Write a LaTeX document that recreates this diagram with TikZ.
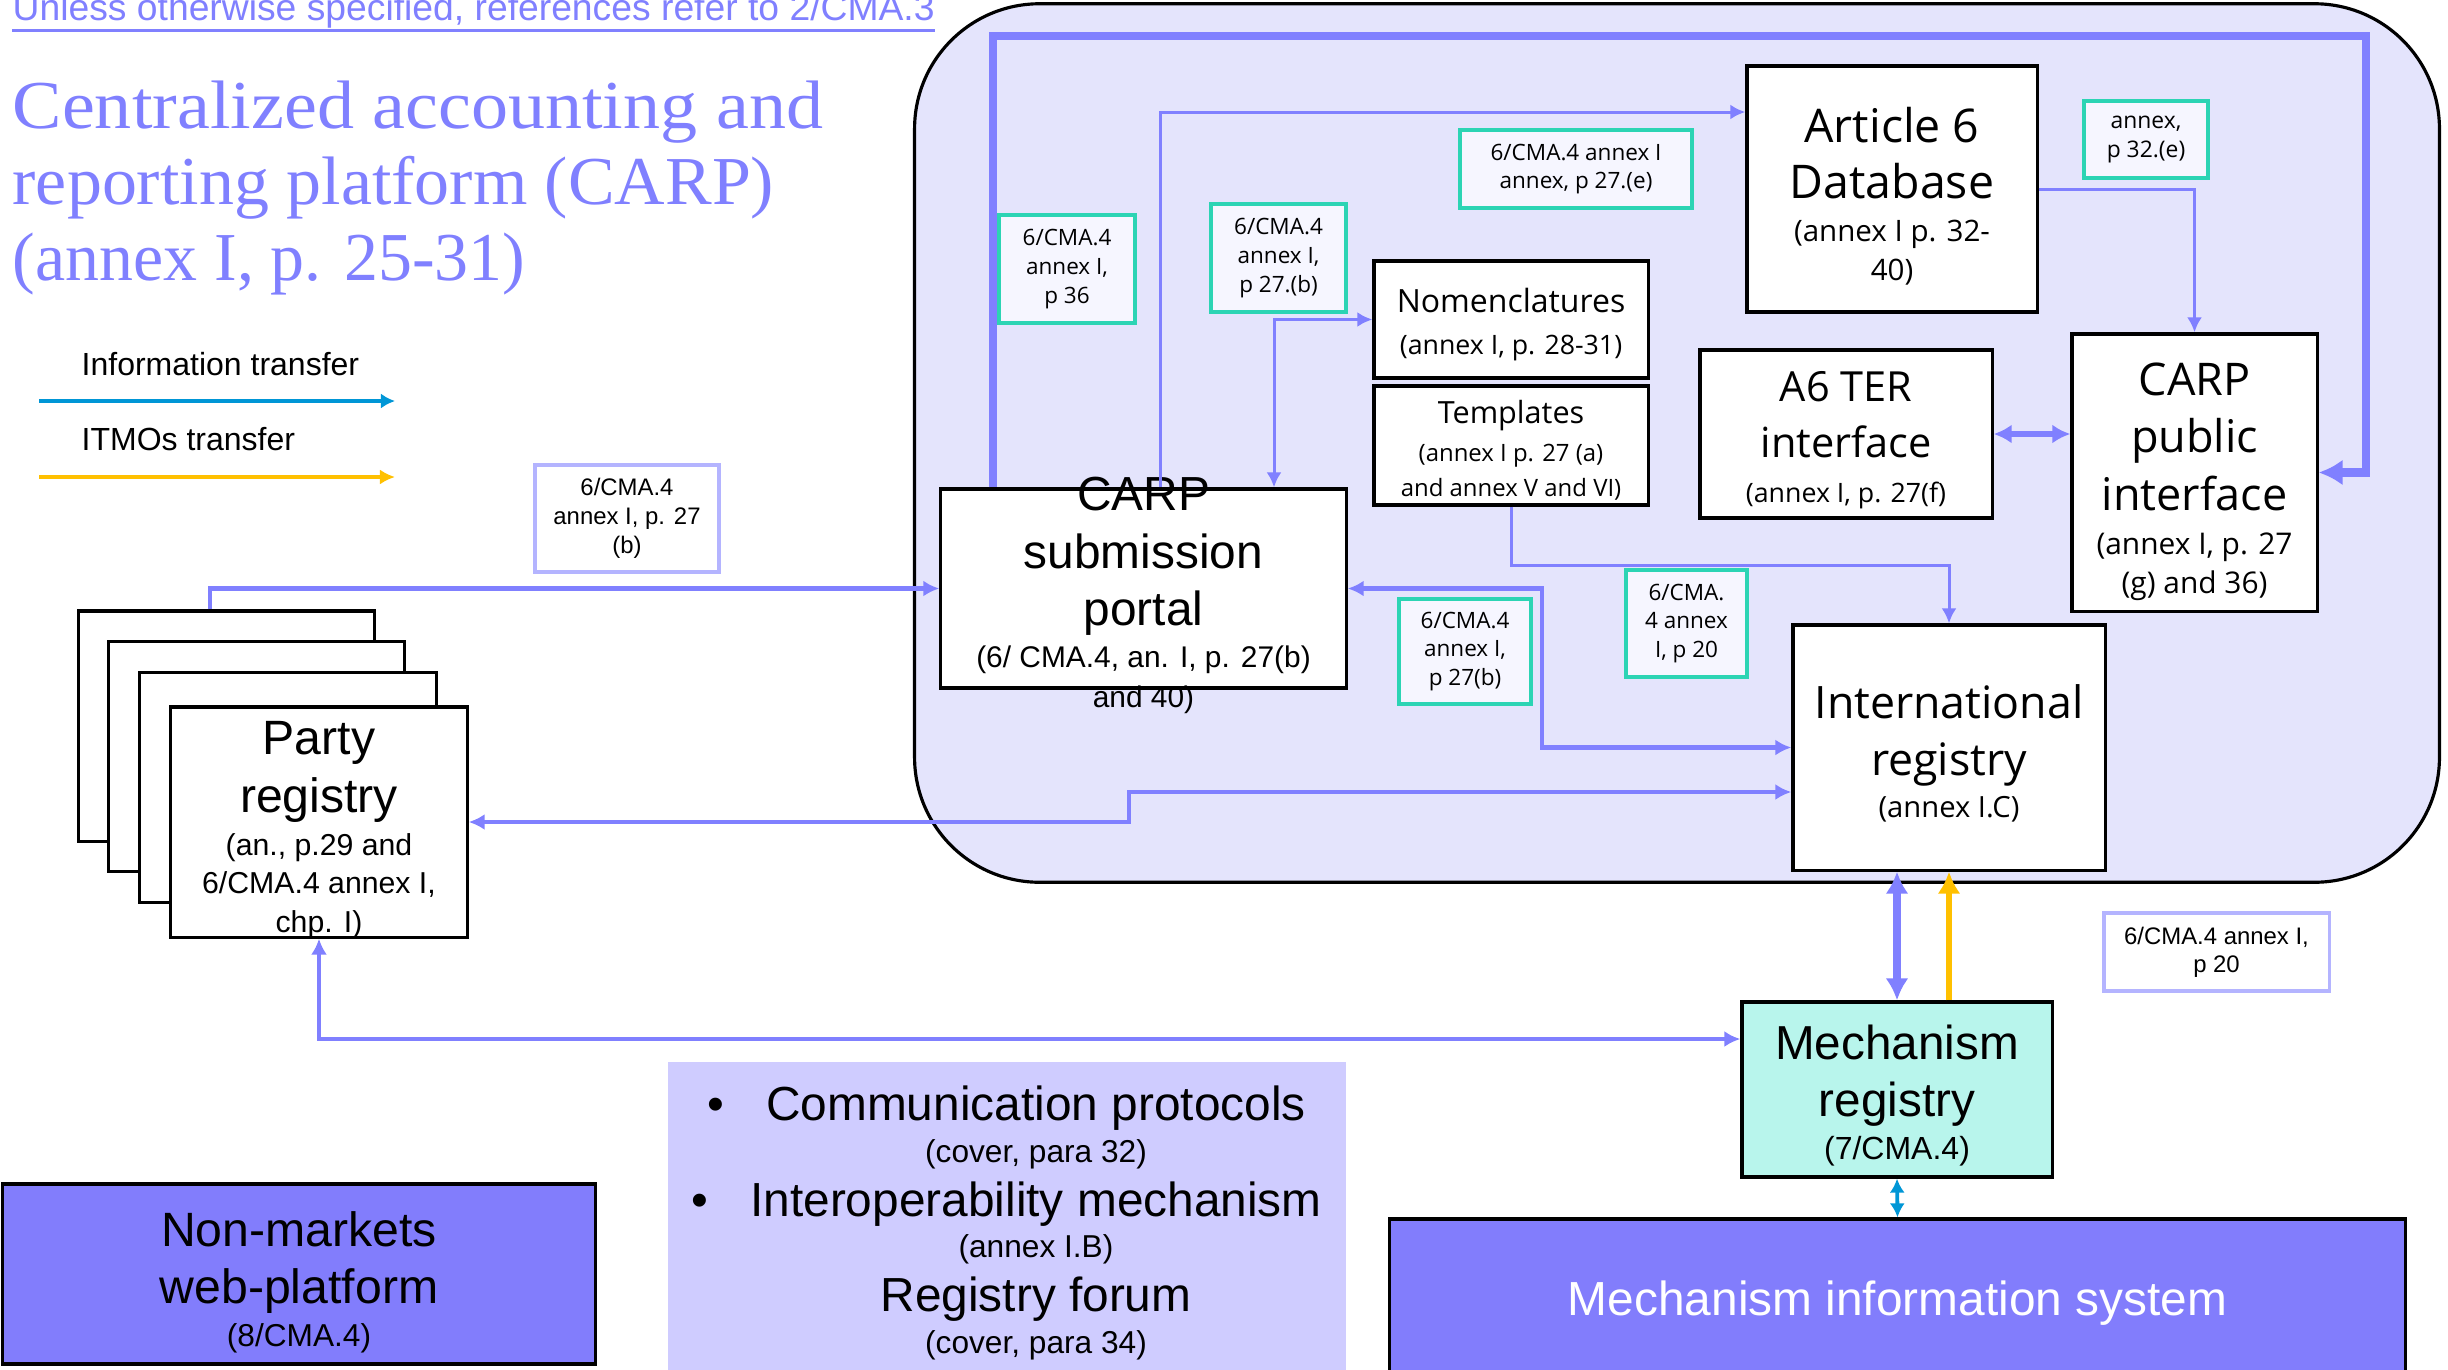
\documentclass[tikz,border=0pt]{standalone}
\usepackage{fontspec}
\usepackage{graphicx}
\setmainfont{Liberation Sans}
\newfontfamily\segoe{Open Sans}
\newfontfamily\titleserif{Liberation Serif}
\usetikzlibrary{arrows.meta,positioning,calc}
\newcommand{\setfs}[2]{\fontsize{#1}{#2}\selectfont}

\definecolor{carpline}{RGB}{128,128,255}
\definecolor{carpbg}{RGB}{228,228,252}
\definecolor{lblteal}{RGB}{44,212,180}
\definecolor{lblfill}{RGB}{246,246,255}
\definecolor{lblpurple}{RGB}{180,180,255}
\definecolor{mechfill}{RGB}{184,245,236}
\definecolor{sysfill}{RGB}{130,125,252}
\definecolor{protofill}{RGB}{207,204,255}
\definecolor{infoblue}{RGB}{0,150,214}
\definecolor{itmoorange}{RGB}{255,192,0}

\tikzset{
    box/.style={draw=black, line width=0.9pt, fill=white, inner sep=0pt, align=center},
    boxtext/.style={align=center, inner sep=0pt},
    sheet/.style={box, minimum width=2.96cm, minimum height=2.30cm},
    teallabel/.style={draw=lblteal, line width=1.1pt, fill=lblfill, inner sep=0pt, align=center, font=\segoe\setfs{6.4}{8.2}},
    purplelabel/.style={draw=lblpurple, line width=0.9pt, fill=white, inner sep=0pt, align=center, font=\setfs{6.8}{8.2}},
    link/.style={draw=carpline, line width=0.85pt, >={Latex[length=1.5mm,width=1.5mm]}, ->},
    route/.style={draw=carpline, line width=1.3pt, >={Latex[length=1.6mm,width=1.6mm]}},
    terlink/.style={draw=carpline, line width=1.7pt, >={Latex[length=1.8mm,width=1.9mm]}, <->},
    loopline/.style={draw=carpline, line width=2.3pt, >={Latex[length=2.4mm,width=2.6mm]}, ->},
    regline/.style={draw=carpline, line width=2.2pt, >={Latex[length=2.2mm,width=2.3mm]}, <->},
    itmo/.style={draw=itmoorange, line width=1.7pt, >={Latex[length=2.2mm,width=2.3mm]}, ->},
    info/.style={draw=infoblue, line width=1.1pt, >={Latex[length=1.4mm,width=1.5mm]}}
}

\begin{document}
\begin{tikzpicture}[x=0.01cm, y=-0.01cm]
\useasboundingbox (0,0) rectangle (2448,1369);

% heading and legend
\node[anchor=base west, inner sep=0pt, text=carpline, font=\setfs{10.6}{12}] (note) at (12,20) {Unless otherwise specified, references refer to 2/CMA.3};
\draw[carpline, line width=1pt] ([yshift=-0.2mm]note.south west) -- ([yshift=-0.2mm]note.south east);
\node[anchor=north west, inner sep=0pt, align=left, text=carpline, font=\titleserif\setfs{19.5}{21.6}] (title) at (12,80) {\scalebox{1.08}[1]{Centralized accounting and}\\\scalebox{1.02}[1]{reporting platform (CARP)}\\\scalebox{0.99}[1]{(annex I, p. 25-31)}};

\node[anchor=base west, inner sep=0pt, font=\setfs{9.1}{11}] (infotxt) at (81,375) {Information transfer};
\node[anchor=base west, inner sep=0pt, font=\setfs{9.1}{11}] (itmotxt) at (81,450) {ITMOs transfer};
\coordinate (infoA) at (39,401);
\coordinate (infoB) at (395,401);
\coordinate (itmoA) at (39,477);
\coordinate (itmoB) at (395,477);
\draw[info, ->, line width=1.2pt] (infoA) -- (infoB);
\draw[itmo, line width=1.2pt, >={Latex[length=1.5mm,width=1.5mm]}] (itmoA) -- (itmoB);

% CARP area
\node[draw=black, line width=0.9pt, fill=carpbg, rounded corners=1.25cm, minimum width=15.24cm, minimum height=8.78cm, inner sep=0pt] (carp) at (1677,443) {};

\node[box, minimum width=2.90cm, minimum height=2.46cm] (art6) at (1892,189) {};
\node[boxtext, font=\segoe\setfs{13.2}{16}] (art6text) at ([yshift=-0.07cm]art6.center) {Article 6\\Database\\[-3.7pt]{\setfs{8.4}{11}(annex I p. 32-}\\[-4.9pt]{\setfs{8.4}{11}40)}};

\node[box, minimum width=2.45cm, minimum height=2.77cm] (cpi) at (2194.5,472.5) {};
\node[boxtext, font=\segoe\setfs{12.8}{16.4}] (cpitext) at ([yshift=-0.09cm]cpi.center) {CARP\\public\\interface\\[-3.9pt]{\setfs{8.5}{11}(annex I, p. 27}\\[-5.3pt]{\setfs{8.5}{11}(g) and 36)}};

\node[box, minimum width=2.92cm, minimum height=1.68cm] (ater) at (1846,434) {};
\node[boxtext, font=\segoe\setfs{11.8}{16}] (atertext) at ([yshift=-0.06cm]ater.center) {A6 TER\\interface\\[-3.3pt]{\setfs{7.6}{10}(annex I, p. 27(f)}};

\node[box, minimum width=2.74cm, minimum height=1.17cm] (nomen) at (1511,319.5) {};
\node[boxtext, font=\segoe\setfs{9.1}{12}] (nomentext) at ([yshift=-0.05cm]nomen.center) {Nomenclatures\\{\setfs{7.6}{10}(annex I, p. 28-31)}};

\node[box, minimum width=2.74cm, minimum height=1.19cm] (templ) at (1511,445.5) {};
\node[boxtext, font=\segoe\setfs{8.7}{11}] (templtext) at ([yshift=-0.045cm]templ.center) {Templates\\{\setfs{6.8}{9}(annex I p. 27 (a)}\\[-1.2pt]{\setfs{6.8}{9}and annex V and VI)}};

\node[box, minimum width=4.05cm, minimum height=1.99cm] (portal) at (1143.5,588.5) {};
\node[boxtext, font=\setfs{13.6}{16.4}] (portaltext) at ([yshift=-0.07cm]portal.center) {CARP\\submission\\portal\\[-4.6pt]{\setfs{8.5}{11.5}(6/ CMA.4, an. I, p. 27(b)}\\[-4.9pt]{\setfs{8.5}{11.5}and 40)}};

\node[box, minimum width=3.12cm, minimum height=2.45cm] (intl) at (1949,747.5) {};
\node[boxtext, font=\segoe\setfs{12.7}{16.4}] (intltext) at ([yshift=-0.055cm]intl.center) {International\\registry\\[-4.6pt]{\setfs{8.3}{11}(annex I.C)}};

% references
\node[teallabel, minimum width=1.36cm, minimum height=1.08cm] (refcma36) at (1067,269) {6/CMA.4\\annex I,\\p 36};
\node[teallabel, minimum width=1.35cm, minimum height=1.08cm] (refnomen) at (1278.5,258) {6/CMA.4\\annex I,\\p 27.(b)};
\node[teallabel, minimum width=2.32cm, minimum height=0.78cm] (refart6) at (1576,169) {6/CMA.4 annex I\\annex, p 27.(e)};
\node[teallabel, minimum width=1.24cm, minimum height=0.77cm, font=\segoe\setfs{6.5}{8.4}] (refpub) at (2146,139.5) {annex,\\p 32.(e)};
\node[teallabel, minimum width=1.32cm, minimum height=1.05cm] (refportal) at (1465,651.5) {6/CMA.4\\annex I,\\p 27(b)};
\node[teallabel, minimum width=1.21cm, minimum height=1.07cm] (reftempl) at (1686.5,623.5) {6/CMA.\\4 annex\\I, p 20};
\node[purplelabel, minimum width=1.84cm, minimum height=1.07cm] (refparty) at (627,518.5) {6/CMA.4\\annex I, p. 27\\(b)};
\node[purplelabel, minimum width=2.25cm, minimum height=0.78cm, font=\setfs{6.8}{8}] (refmech) at (2216.5,952) {6/CMA.4 annex I,\\p 20};

% party registries
\node[sheet] (sheet1) at (226.5,726) {};
\node[sheet] (sheet2) at (256.5,756.5) {};
\node[sheet] (sheet3) at (288,787.5) {};
\node[sheet] (party) at (319,822) {};
\node[boxtext, font=\setfs{13.7}{16.4}] (partytext) at ([yshift=-0.08cm]party.center) {Party\\registry\\[-4.2pt]{\setfs{8.6}{11}(an., p.29 and}\\[-5.5pt]{\setfs{8.6}{11}6/CMA.4 annex I,}\\[-5.5pt]{\setfs{8.6}{11}chp. I)}};

% mechanism side
\node[box, fill=mechfill, minimum width=3.10cm, minimum height=1.75cm] (mech) at (1897,1089.5) {};
\node[boxtext, font=\setfs{13.55}{16.4}] (mechtext) at ([yshift=-0.06cm]mech.center) {Mechanism\\registry\\[-4.2pt]{\setfs{9.1}{11}(7/CMA.4)}};

\node[box, fill=sysfill, minimum width=10.15cm, minimum height=1.68cm, text=white, font=\setfs{13.6}{16}] (mis) at (1897.5,1303) {Mechanism information system};

\node[box, fill=sysfill, minimum width=5.92cm, minimum height=1.80cm] (nonmkt) at (299,1274) {};
\node[boxtext, font=\setfs{13.7}{16}] (nonmkttext) at ([yshift=-0.085cm]nonmkt.center) {Non-markets\\web-platform\\[-3.7pt]{\setfs{9}{11}(8/CMA.4)}};

\node[fill=protofill, minimum width=6.78cm, minimum height=3.20cm, inner sep=0pt] (protobox) at (1007,1222) {};
\node[boxtext, font=\setfs{13.6}{16.4}] (prototext) at (1036,1223) {\llap{\textbullet\hspace{12pt}}Communication protocols\\[-4.6pt]{\setfs{9}{11}(cover, para 32)}\\[-1pt]\llap{\textbullet\hspace{12pt}}Interoperability mechanism\\[-4.6pt]{\setfs{9}{11}(annex I.B)}\\[-1pt]Registry forum\\[-4.6pt]{\setfs{9}{11}(cover, para 34)}};

% connectors
\coordinate (loopA) at (993,36);
\coordinate (loopB) at (2366,36);
\draw[loopline] (portal.north -| loopA) -- (loopA) -- (loopB) |- (cpi.east);

\coordinate (artbend) at (1160,112);
\draw[link] (portal.north -| artbend) -- (artbend) -- (artbend -| art6.west);

\coordinate (nombend) at (1274,319.5);
\draw[link, <->] (portal.north -| nombend) -- (nombend) -- (nomen.west);

\draw[link] (art6.east) -| (cpi.north);
\draw[terlink] (ater.east) -- (ater.east -| cpi.west);
\draw[link] (templ.south) -- ++(0,59) -| (intl.north);

\coordinate (portbend) at (1542,747.5);
\draw[route, <->] (portal.east) -| (portbend) -- (intl.west);

\coordinate (partybend) at (1129,792);
\draw[route, <->] (party.east) -| (partybend) -- (partybend -| intl.west);

\coordinate (partyup) at (210,588.5);
\draw[route, ->] (sheet1.north -| partyup) -- (partyup) -- (portal.west);

\coordinate (mechbend) at (319,1039);
\draw[route, <->] (party.south) -- (mechbend) -- (mechbend -| mech.west);

\draw[regline] (intl.south -| mech.north) -- (mech.north);
\draw[itmo] (mech.north -| intl.south) -- (intl.south);
\draw[info, <->] (mech.south) -- (mis.north);

\end{tikzpicture}
\end{document}
